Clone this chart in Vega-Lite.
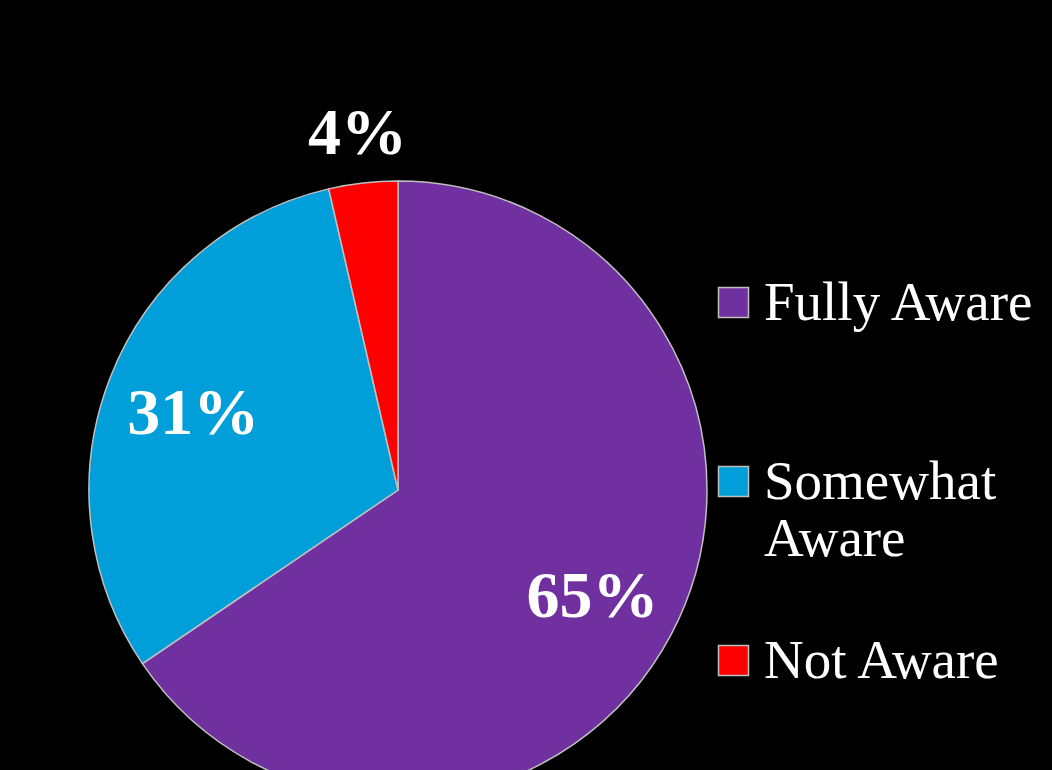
{
  "$schema": "https://vega.github.io/schema/vega-lite/v6.json",
  "width": 796,
  "height": 560,
  "autosize": {"type": "none"},
  "padding": {"left": 0, "top": 210, "right": 256, "bottom": 0},
  "background": "#000000",
  "config": {"view": {"stroke": null}, "font": "Liberation Serif"},
  "data": {
    "values": [
      {"category": "Fully Aware", "pct": 65.5, "label": "65%", "order": 1},
      {"category": "Somewhat Aware", "pct": 30.9, "label": "31%", "order": 2},
      {"category": "Not Aware", "pct": 3.6, "label": "4%", "order": 3}
    ]
  },
  "encoding": {
    "theta": {"field": "pct", "type": "quantitative", "stack": true},
    "order": {"field": "order", "type": "quantitative"}
  },
  "layer": [
    {
      "mark": {"type": "arc", "radius": 309, "stroke": "#BFBFBF", "strokeWidth": 1.5},
      "encoding": {
        "color": {
          "field": "category",
          "type": "nominal",
          "sort": ["Fully Aware", "Somewhat Aware", "Not Aware"],
          "scale": {"domain": ["Fully Aware", "Somewhat Aware", "Not Aware"], "range": ["#7030A0", "#009FD9", "#FF0000"]},
          "legend": {
            "title": null,
            "orient": "none",
            "legendX": 706,
            "legendY": 65,
            "gridAlign": "all",
            "symbolType": "square",
            "symbolSize": 900,
            "symbolStrokeColor": "#BFBFBF",
            "symbolStrokeWidth": 1.5,
            "symbolOpacity": 1,
            "labelFont": "Liberation Serif",
            "labelFontSize": 55,
            "labelColor": "#FFFFFF",
            "labelOffset": 3,
            "labelLimit": 400,
            "labelLineHeight": 62,
            "rowPadding": 66,
            "labelExpr": "datum.label == 'Somewhat Aware' ? ['Somewhat', 'Aware'] : datum.label"
          }
        }
      }
    },
    {
      "mark": {"type": "text", "radius": 220, "font": "Liberation Serif", "fontSize": 66, "fontWeight": "bold", "color": "#FFFFFF", "align": "center", "baseline": "middle", "dy": 4},
      "encoding": {
        "detail": {"field": "category", "type": "nominal"},
        "text": {"condition": {"test": "datum.category != 'Not Aware'", "field": "label"}, "value": ""}
      }
    },
    {
      "mark": {"type": "text", "radius": 358, "font": "Liberation Serif", "fontSize": 66, "fontWeight": "bold", "color": "#FFFFFF", "align": "center", "baseline": "middle"},
      "encoding": {
        "detail": {"field": "category", "type": "nominal"},
        "text": {"condition": {"test": "datum.category == 'Not Aware'", "field": "label"}, "value": ""}
      }
    }
  ]
}
